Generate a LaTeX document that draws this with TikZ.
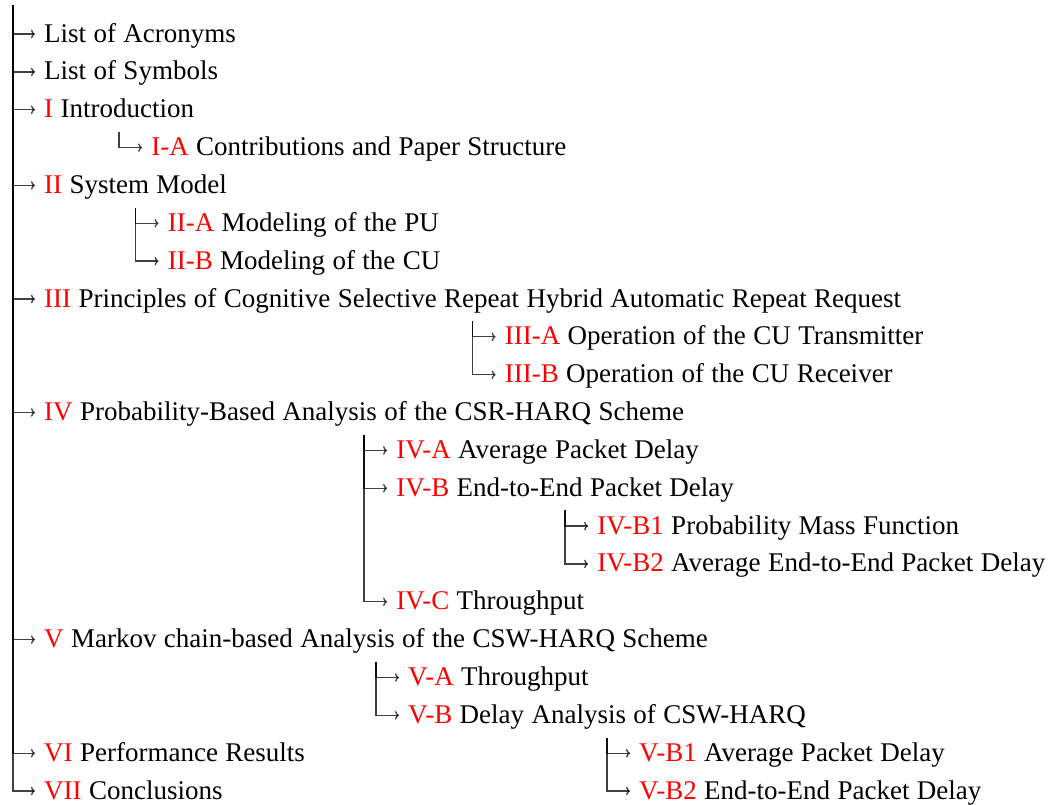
\documentclass[tikz,border=0pt]{standalone}
\usepackage{fontspec}
\setmainfont{Liberation Serif}
\usetikzlibrary{arrows.meta}

% section number in red, followed by its title
\newcommand{\secnum}[2]{\textcolor{red}{#1} #2}

\begin{document}
\begin{tikzpicture}[
  x=1pt, y=-1pt,
  entry/.style={anchor=west, inner xsep=9pt, inner ysep=10pt,
    text height=20pt, text depth=4pt,
    font={\fontsize{27}{32}\selectfont\spaceskip=7.4pt\relax}},
  edge/.style={draw=black, draw opacity=.75, line width=1.3pt,
    -{To[length=4pt,width=8.5pt]}},
  sub/.style={xshift=23pt}
]
\useasboundingbox (0,0) rectangle (1048,804);

\coordinate (root) at (13,5);

% top level entries
\node[entry] (acr) at (35,34)    {List of Acronyms};
\node[entry] (sym) at (35,71.9)  {List of Symbols};
\node[entry] (s1)  at (35,109.7) {\secnum{I}{Introduction}};
\node[entry] (s2)  at (35,185.4) {\secnum{II}{System Model}};
\node[entry] (s3)  at (35,299)   {\secnum{III}{Principles of Cognitive Selective Repeat Hybrid Automatic Repeat Request}};
\node[entry] (s4)  at (35,412.5) {\secnum{IV}{Probability-Based Analysis of the CSR-HARQ Scheme}};
\node[entry] (s5)  at (35,639.6) {\secnum{V}{Markov chain-based Analysis of the CSW-HARQ Scheme}};
\node[entry] (s6)  at (35,753.2) {\secnum{VI}{Performance Results}};
\node[entry] (s7)  at (35,791)   {\secnum{VII}{Conclusions}};

% subsections, hanging below the middle of their parent
\node[entry] (s1a) at ([sub]s1.south |- 0,147.6) {\secnum{I-A}{Contributions and Paper Structure}};
\node[entry] (s2a) at ([sub]s2.south |- 0,223.3) {\secnum{II-A}{Modeling of the PU}};
\node[entry] (s2b) at ([sub]s2.south |- 0,261.1) {\secnum{II-B}{Modeling of the CU}};
\node[entry] (s3a) at ([sub]s3.south |- 0,336.8) {\secnum{III-A}{Operation of the CU Transmitter}};
\node[entry] (s3b) at ([sub]s3.south |- 0,374.7) {\secnum{III-B}{Operation of the CU Receiver}};
\node[entry] (s4a) at ([sub]s4.south |- 0,450.4) {\secnum{IV-A}{Average Packet Delay}};
\node[entry] (s4b) at ([sub]s4.south |- 0,488.2) {\secnum{IV-B}{End-to-End Packet Delay}};
\node[entry] (s4c) at ([sub]s4.south |- 0,601.8) {\secnum{IV-C}{Throughput}};
\node[entry] (s4b1) at ([sub]s4b.south |- 0,526.1) {\secnum{IV-B1}{Probability Mass Function}};
\node[entry] (s4b2) at ([sub]s4b.south |- 0,563.9) {\secnum{IV-B2}{Average End-to-End Packet Delay}};
\node[entry] (s5a) at ([sub]s5.south |- 0,677.5) {\secnum{V-A}{Throughput}};
\node[entry] (s5b) at ([sub]s5.south |- 0,715.3) {\secnum{V-B}{Delay Analysis of CSW-HARQ}};
\node[entry] (s5b1) at ([sub]s5b.south |- 0,753.2) {\secnum{V-B1}{Average Packet Delay}};
\node[entry] (s5b2) at ([sub]s5b.south |- 0,791) {\secnum{V-B2}{End-to-End Packet Delay}};

% connectors
\foreach \c in {acr,sym,s1,s2,s3,s4,s5,s6,s7}
  \draw[edge] (root) |- (\c.west);
\draw[edge] (s1.south) |- (s1a.west);
\foreach \c in {s2a,s2b} \draw[edge] (s2.south) |- (\c.west);
\foreach \c in {s3a,s3b} \draw[edge] (s3.south) |- (\c.west);
\foreach \c in {s4a,s4b,s4c} \draw[edge] (s4.south) |- (\c.west);
\foreach \c in {s4b1,s4b2} \draw[edge] (s4b.south) |- (\c.west);
\foreach \c in {s5a,s5b} \draw[edge] (s5.south) |- (\c.west);
\foreach \c in {s5b1,s5b2} \draw[edge] (s5b.south) |- (\c.west);
\end{tikzpicture}
\end{document}
